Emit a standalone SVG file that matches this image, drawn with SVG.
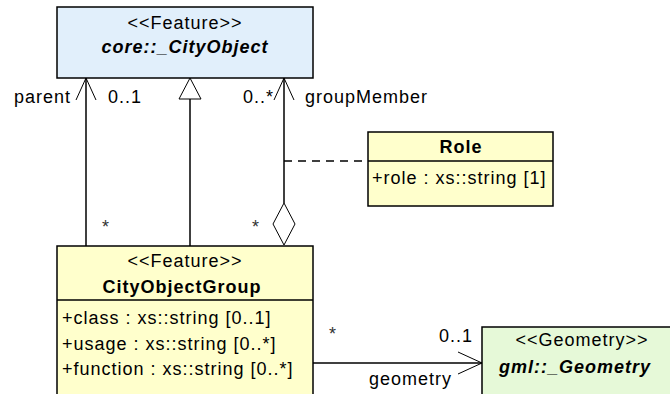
<svg xmlns="http://www.w3.org/2000/svg" width="670" height="394" viewBox="0 0 670 394">
<style>
text{font-family:"Liberation Sans",Arial,sans-serif;font-size:18px;letter-spacing:1px;fill:#000}
.c{text-anchor:middle}
.b{font-weight:bold}
.bi{font-weight:bold;font-style:italic}
.box{stroke:#000;stroke-width:1.5}
.ln{stroke:#000;stroke-width:1.5;fill:none}
.ah{stroke:#000;stroke-width:1;fill:none}
.st{fill:#333}
</style>
<rect width="670" height="394" fill="#fff"/>
<g id="cityobject">
<rect class="box" x="57" y="7" width="256" height="71" fill="#e1effb"/>
<text class="c" x="185" y="29">&lt;&lt;Feature&gt;&gt;</text>
<text class="c bi" x="185" y="53">core::_CityObject</text>
</g>
<g id="cityobjectgroup">
<rect class="box" x="57" y="246" width="256" height="160" fill="#ffffcc"/>
<line class="box" x1="57" y1="300" x2="313" y2="300"/>
<text class="c" x="185" y="267">&lt;&lt;Feature&gt;&gt;</text>
<text class="c b" x="182" y="293">CityObjectGroup</text>
<text x="62" y="324">+class : xs::string [0..1]</text>
<text x="62" y="349.5">+usage : xs::string [0..*]</text>
<text x="62" y="375">+function : xs::string [0..*]</text>
</g>
<g id="role">
<rect class="box" x="368" y="132" width="185" height="74" fill="#ffffcc"/>
<line class="box" x1="368" y1="161" x2="553" y2="161"/>
<text class="c b" x="461" y="153">Role</text>
<text x="372" y="183.5">+role : xs::string [1]</text>
</g>
<g id="geometry">
<rect class="box" x="482" y="327" width="196" height="80" fill="#e6f9d8"/>
<text class="c" x="582" y="346">&lt;&lt;Geometry&gt;&gt;</text>
<text class="c bi" x="575" y="373">gml::_Geometry</text>
</g>
<g id="connectors">
<line class="ln" x1="86" y1="78" x2="86" y2="246"/>
<polyline class="ah" points="76,100 86,78 96,100"/>
<line class="ln" x1="190" y1="99" x2="190" y2="246"/>
<polygon class="ah" points="190,78 179,99 201,99" fill="#fff"/>
<line class="ln" x1="284" y1="78" x2="284" y2="203"/>
<polyline class="ah" points="274,100 284,78 294,100"/>
<polygon class="ah" points="284,203 295,224 284,245 273,224" fill="#fff"/>
<line class="ln" x1="284" y1="161" x2="368" y2="161" stroke-dasharray="8,6"/>
<line class="ln" x1="313" y1="363" x2="482" y2="363"/>
<polyline class="ah" points="458,352 482,363 458,374"/>
<text x="71" y="103" style="text-anchor:end">parent</text>
<text x="108" y="103">0..1</text>
<text x="243" y="103">0..*</text>
<text x="305" y="103">groupMember</text>
<text class="st" x="102" y="233">*</text>
<text class="st" x="252" y="233">*</text>
<text class="st" x="329" y="340">*</text>
<text x="439" y="342">0..1</text>
<text x="369" y="385">geometry</text>
</g>
</svg>
